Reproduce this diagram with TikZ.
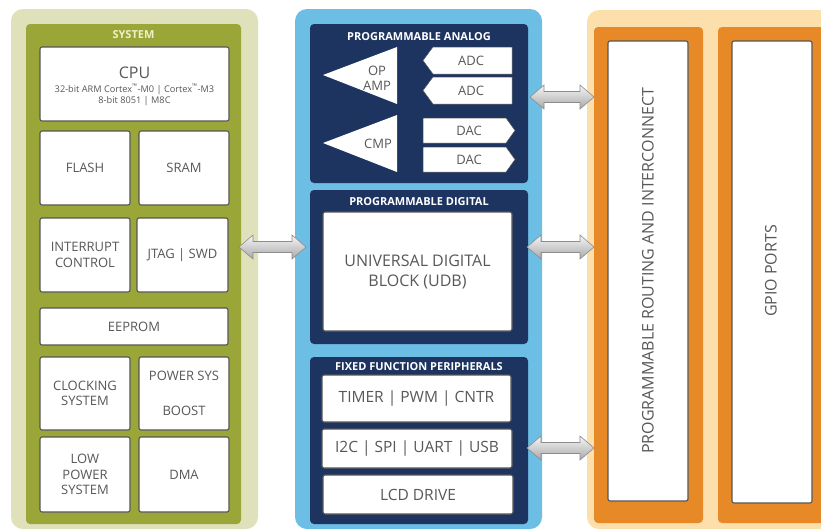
\documentclass[tikz,border=0pt]{standalone}
\usepackage{fontspec}
\setmainfont{Open Sans}
\usetikzlibrary{calc}

\definecolor{sysouter}{RGB}{223,225,186}
\definecolor{sysinner}{RGB}{155,166,57}
\definecolor{midouter}{RGB}{108,190,228}
\definecolor{navy}{RGB}{29,51,96}
\definecolor{ioouter}{RGB}{253,223,172}
\definecolor{orange}{RGB}{232,137,40}
\definecolor{boxedge}{RGB}{85,85,85}
\definecolor{txt}{RGB}{88,88,88}
\definecolor{systitle}{RGB}{238,240,200}
\definecolor{arrowedge}{RGB}{140,140,140}
\definecolor{arrowtop}{RGB}{246,246,246}
\definecolor{arrowbot}{RGB}{168,168,168}

\tikzset{
  outerpanel/.style={rounded corners=12pt},
  innerpanel/.style={rounded corners=4pt},
  box/.style={draw=boxedge, line width=1.1pt, fill=white, rounded corners=2pt,
    text=txt, align=center, inner sep=0pt, font=\fontsize{13}{15.5}\selectfont},
  bigbox/.style={box, font=\fontsize{16}{20}\selectfont},
  midbox/.style={box, font=\fontsize{15.5}{19}\selectfont},
  paneltitle/.style={font=\bfseries\fontsize{11}{13}\selectfont, inner sep=0pt},
  shapetext/.style={text=txt, align=center, inner sep=0pt, font=\fontsize{13}{15}\selectfont},
  chip/.style={fill=white, draw=boxedge, line width=0.5pt},
  dbl/.style={draw=arrowedge, line width=0.6pt, top color=arrowtop, bottom color=arrowbot},
  vtext/.style={rotate=90, text=txt, inner sep=0pt, font=\fontsize{16}{19}\selectfont}
}

% two-headed block arrow between two named points at the same height
\newcommand\pairarrow[2]{%
  \path[dbl] let \p1=(#1), \p2=(#2) in
    (\x1,\y1) -- (\x1+14pt,\y1+12pt) -- (\x1+14pt,\y1+5.5pt) -- (\x2-14pt,\y1+5.5pt)
    -- (\x2-14pt,\y1+12pt) -- (\x2,\y1) -- (\x2-14pt,\y1-12pt) -- (\x2-14pt,\y1-5.5pt)
    -- (\x1+14pt,\y1-5.5pt) -- (\x1+14pt,\y1-12pt) -- cycle;}

\begin{document}
\begin{tikzpicture}[x=1pt,y=-1pt]
\useasboundingbox (0,0) rectangle (821,530);
\clip (0,0) rectangle (821,530);
\fill[white] (0,0) rectangle (821,530);

% ---------------- system block ----------------
\fill[sysouter, outerpanel] (11,9) rectangle (258,529);
\fill[sysinner, innerpanel] (26,24) rectangle (241,524);
\node[paneltitle, text=systitle] (systitle) at (133.5,35) {SYSTEM};

\node[box, minimum width=189, minimum height=74] (cpu) at (134.5,84) {};
\node[text=txt, inner sep=0pt, font=\fontsize{16}{18}\selectfont] (cpuname) at (134.5,73) {CPU};
\node[text=txt, inner sep=0pt, align=center, font=\fontsize{9.2}{11}\selectfont] (cpucores) at (134.5,95)
  {32-bit ARM Cortex\textsuperscript{™}-M0 | Cortex\textsuperscript{™}-M3\\8-bit 8051 | M8C};

\node[box, minimum width=90, minimum height=74] (flash) at (85,168) {FLASH};
\node[box, minimum width=90, minimum height=74] (sram) at (184,168) {SRAM};
\node[box, minimum width=90, minimum height=74] (irq) at (85,255) {INTERRUPT\\CONTROL};
\node[box, minimum width=91, minimum height=74] (jtag) at (182.5,255) {JTAG | SWD};
\node[box, minimum width=188, minimum height=37] (eeprom) at (134,326.5) {EEPROM};
\node[box, minimum width=90, minimum height=73] (clk) at (85,393.5) {CLOCKING\\SYSTEM};
\node[box, minimum width=90, minimum height=73] (pwr) at (184,393.5) {POWER SYS\\[20pt]BOOST};
\node[box, minimum width=90, minimum height=75] (lowpwr) at (85,474.5) {LOW\\POWER\\SYSTEM};
\node[box, minimum width=90, minimum height=75] (dma) at (184,474.5) {DMA};

% ---------------- programmable blocks ----------------
\fill[midouter, outerpanel] (295,9) rectangle (542,529);

% analog
\fill[navy, innerpanel] (310,24) rectangle (528,183);
\node[paneltitle, text=white] (antitle) at (419,37) {PROGRAMMABLE ANALOG};
\fill[white] (323,75) -- (397,47) -- (397,104) -- cycle;
\node[shapetext] (opamp) at (377,78) {OP\\AMP};
\fill[white] (323,143) -- (397,115) -- (397,172) -- cycle;
\node[shapetext] (cmp) at (378,144) {CMP};
\filldraw[chip] (423,60.5) -- (433,47) -- (512,47) -- (512,74) -- (433,74) -- cycle;
\node[shapetext] (adc1) at (471,61) {ADC};
\filldraw[chip] (423,90.5) -- (433,77) -- (512,77) -- (512,104) -- (433,104) -- cycle;
\node[shapetext] (adc2) at (471,91) {ADC};
\filldraw[chip] (423,118) -- (506,118) -- (515,130.5) -- (506,143) -- (423,143) -- cycle;
\node[shapetext] (dac1) at (469,131) {DAC};
\filldraw[chip] (423,147) -- (506,147) -- (515,159.5) -- (506,172) -- (423,172) -- cycle;
\node[shapetext] (dac2) at (469,160) {DAC};

% digital
\fill[navy, innerpanel] (310,190) rectangle (528,344);
\node[paneltitle, text=white] (digtitle) at (419,202) {PROGRAMMABLE DIGITAL};
\node[bigbox, minimum width=189, minimum height=119] (udb) at (417.5,271.5) {UNIVERSAL DIGITAL\\BLOCK (UDB)};

% fixed function
\fill[navy, innerpanel] (310,357) rectangle (528,524);
\node[paneltitle, text=white] (fftitle) at (419,367) {FIXED FUNCTION PERIPHERALS};
\node[midbox, minimum width=189, minimum height=47] (timer) at (416.5,398.5) {TIMER | PWM | CNTR};
\node[midbox, minimum width=190, minimum height=39] (serial) at (417,448.5) {I2C | SPI | UART | USB};
\node[midbox, minimum width=190, minimum height=39] (lcd) at (418,494.5) {LCD DRIVE};

% ---------------- routing and I/O ----------------
\fill[ioouter, outerpanel] (587,10) rectangle (850,529);
\fill[orange, innerpanel] (594,27) rectangle (703,523);
\node[box, minimum width=80, minimum height=460] (route) at (648,271) {};
\node[vtext] (routelabel) at (648,271) {PROGRAMMABLE ROUTING AND INTERCONNECT};
\fill[orange, innerpanel] (718,27) rectangle (850,523);
\node[box, minimum width=80, minimum height=462] (gpio) at (772,272) {};
\node[vtext] (gpiolabel) at (771,271) {GPIO PORTS};

% ---------------- links ----------------
\coordinate (sysport) at (239,247);
\coordinate (digin) at (306,247);
\coordinate (anout) at (530,97);
\coordinate (rtA) at (594,97);
\coordinate (digout) at (527,247);
\coordinate (rtD) at (594,247);
\coordinate (ffout) at (527,448);
\coordinate (rtF) at (594,448);
\pairarrow{sysport}{digin}
\pairarrow{anout}{rtA}
\pairarrow{digout}{rtD}
\pairarrow{ffout}{rtF}
\end{tikzpicture}
\end{document}
